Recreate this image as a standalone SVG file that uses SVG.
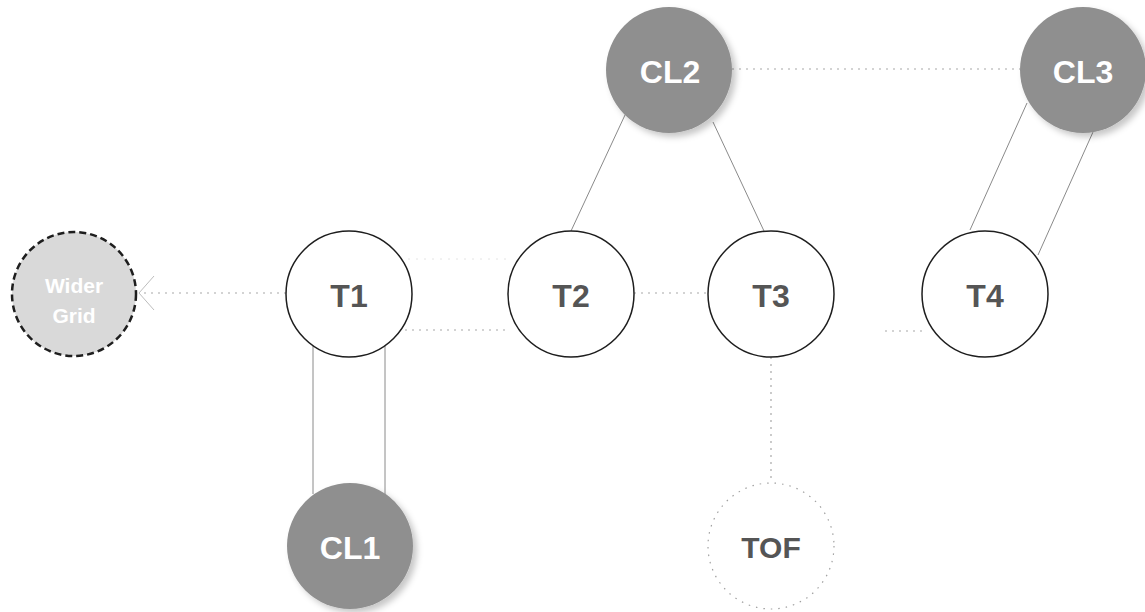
<svg xmlns="http://www.w3.org/2000/svg" width="1145" height="612" viewBox="0 0 1145 612">
<style>
  .lbl { font-family: "Liberation Sans", Arial, sans-serif; font-weight: bold; text-anchor: middle; }
  .cl circle { fill: #8f8f8f; filter: url(#shadow); }
  .cl text { fill: #ffffff; font-size: 32px; }
  .t circle { fill: #ffffff; stroke: #1e1e1e; stroke-width: 1.5; }
  .t text { fill: #555555; font-size: 32px; }
  .solid { stroke: #8a8a8a; stroke-width: 1; fill: none; }
  .dot { stroke: #a8a8a8; stroke-width: 1.2; stroke-dasharray: 2 5; fill: none; }
  .faint { stroke: #e4e4e4; stroke-width: 1; stroke-dasharray: 2 6; fill: none; }
</style>
<defs>
  <filter id="shadow" x="-30%" y="-30%" width="170%" height="170%">
    <feDropShadow dx="4" dy="4" stdDeviation="3" flood-color="#000" flood-opacity="0.22"/>
  </filter>
  <marker id="chev" markerWidth="20" markerHeight="40" refX="16" refY="18" orient="auto" markerUnits="userSpaceOnUse">
    <path d="M1,1 L16,18 L1,35" fill="none" stroke="#bdbdbd" stroke-width="1"/>
  </marker>
</defs>
<rect width="1145" height="612" fill="#ffffff"/>

<g id="connectors">
  <line class="dot" x1="286" y1="293" x2="139" y2="293" marker-end="url(#chev)"/>
  <line class="faint" x1="408" y1="259" x2="510" y2="259"/>
  <line class="dot" x1="405" y1="330" x2="508" y2="330"/>
  <line class="dot" x1="634" y1="293" x2="708" y2="293"/>
  <line class="dot" x1="885" y1="331" x2="922" y2="331"/>
  <line class="dot" x1="771" y1="357" x2="771" y2="483"/>
  <line class="dot" x1="732" y1="69" x2="1020" y2="69"/>
  <line class="solid" x1="313" y1="346" x2="313" y2="494"/>
  <line class="solid" x1="385" y1="346" x2="385" y2="494"/>
  <line class="solid" x1="625" y1="115" x2="571" y2="231"/>
  <line class="solid" x1="713" y1="122" x2="764" y2="231"/>
  <line class="solid" x1="1027" y1="103" x2="970" y2="230"/>
  <line class="solid" x1="1093" y1="132" x2="1038" y2="255"/>
</g>

<g id="wider-grid">
  <circle cx="74" cy="294" r="62" fill="#d9d9d9" stroke="#1e1e1e" stroke-width="2.5" stroke-dasharray="7 4"/>
  <text class="lbl" x="74" y="293" font-size="21" fill="#ffffff">Wider</text>
  <text class="lbl" x="74" y="323" font-size="21" fill="#ffffff">Grid</text>
</g>

<g id="T1" class="t">
  <circle cx="349" cy="294" r="63"/>
  <text class="lbl" x="349" y="307">T1</text>
</g>
<g id="T2" class="t">
  <circle cx="571" cy="294" r="63"/>
  <text class="lbl" x="571" y="307">T2</text>
</g>
<g id="T3" class="t">
  <circle cx="771" cy="294" r="63"/>
  <text class="lbl" x="771" y="307">T3</text>
</g>
<g id="T4" class="t">
  <circle cx="985" cy="294" r="63"/>
  <text class="lbl" x="985" y="307">T4</text>
</g>

<g id="CL1" class="cl">
  <circle cx="350" cy="546" r="63"/>
  <text class="lbl" x="350" y="559">CL1</text>
</g>
<g id="CL2" class="cl">
  <circle cx="669" cy="70" r="63"/>
  <text class="lbl" x="670" y="83">CL2</text>
</g>
<g id="CL3" class="cl">
  <circle cx="1083" cy="70" r="63"/>
  <text class="lbl" x="1083" y="83">CL3</text>
</g>

<g id="TOF">
  <circle cx="771" cy="546" r="63" fill="#ffffff" stroke="#a0a0a0" stroke-width="1.2" stroke-dasharray="1.5 6"/>
  <text class="lbl" x="771" y="558" font-size="30" fill="#555555">TOF</text>
</g>
</svg>
